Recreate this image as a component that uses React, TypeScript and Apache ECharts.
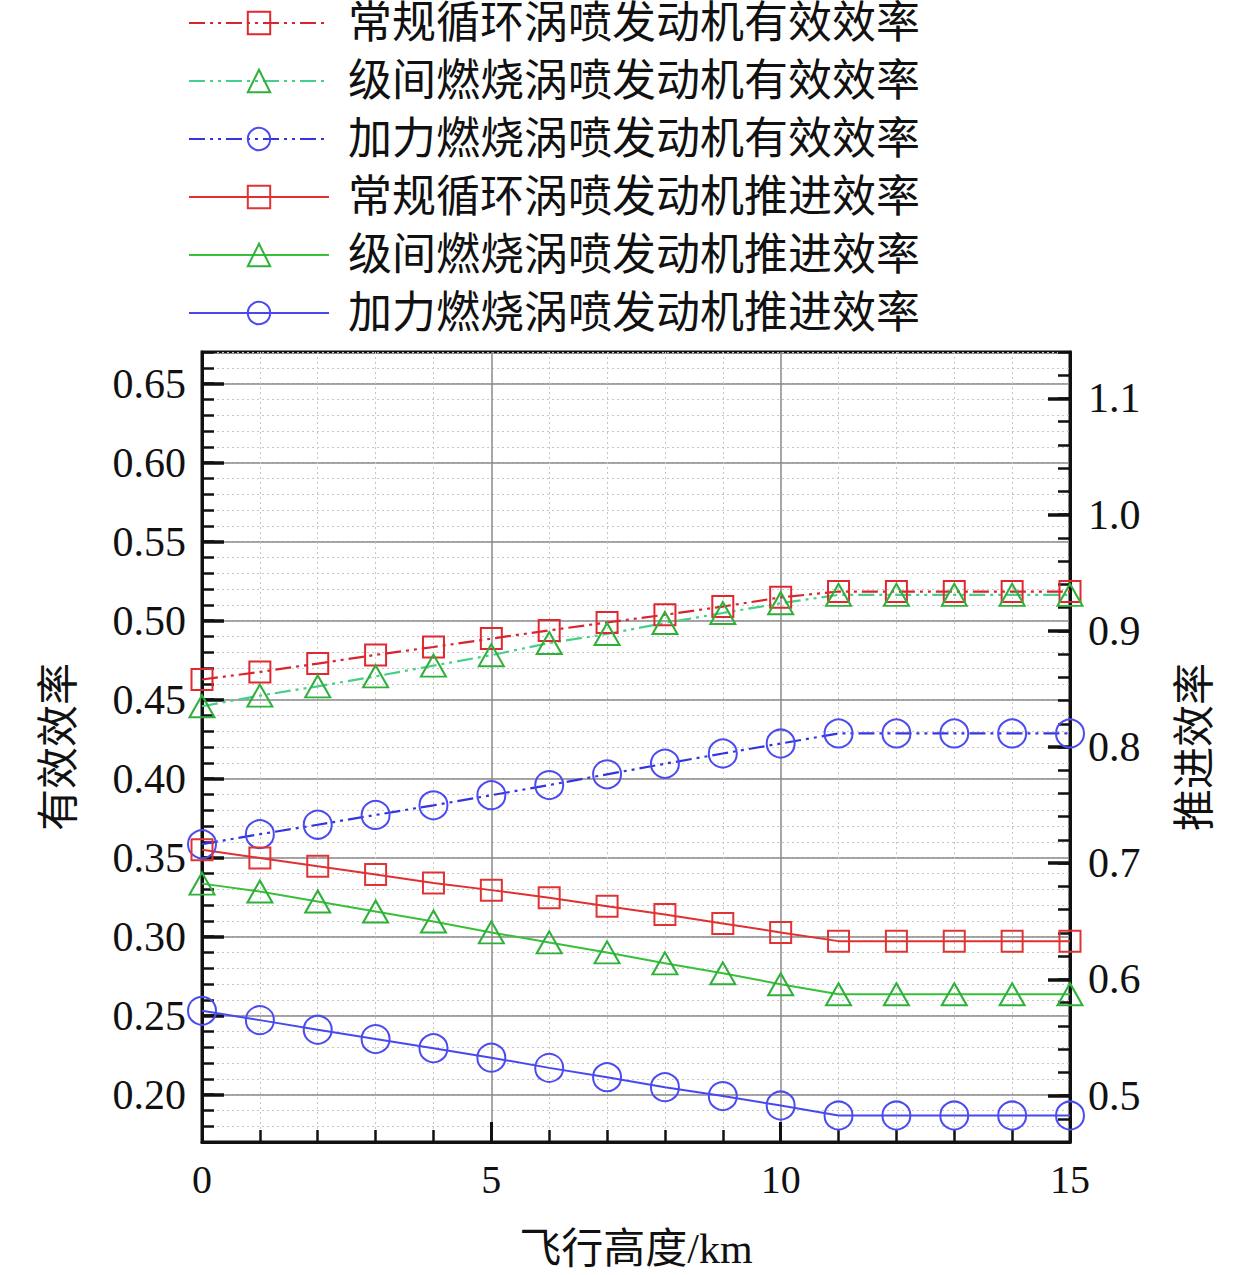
import { useEffect, useRef } from 'react';
import * as echarts from 'echarts';

// 飞行高度 (km)
const altitude = [0, 1, 2, 3, 4, 5, 6, 7, 8, 9, 10, 11, 12, 13, 14, 15];

// 有效效率 (左轴)
const convEffective = [0.4627, 0.4675, 0.4728, 0.4783, 0.4833, 0.4886, 0.4938, 0.4988, 0.5037, 0.5089, 0.5147, 0.5184, 0.5184, 0.5184, 0.5184, 0.5184];
const interEffective = [0.4458, 0.4525, 0.4584, 0.4647, 0.4715, 0.4781, 0.4858, 0.4915, 0.4985, 0.5048, 0.511, 0.5163, 0.5163, 0.5163, 0.5163, 0.5163];
const afterEffective = [0.3585, 0.3648, 0.3708, 0.377, 0.3831, 0.3895, 0.3959, 0.4027, 0.4094, 0.4159, 0.4222, 0.4286, 0.4286, 0.4286, 0.4286, 0.4286];

// 推进效率 (右轴)
const convPropulsive = [0.7116, 0.7045, 0.6973, 0.6902, 0.683, 0.6768, 0.6702, 0.663, 0.6558, 0.6481, 0.6404, 0.6329, 0.6329, 0.6329, 0.6329, 0.6329];
const interPropulsive = [0.6824, 0.6756, 0.667, 0.6584, 0.6498, 0.6404, 0.6318, 0.6232, 0.6138, 0.6052, 0.5958, 0.5872, 0.5872, 0.5872, 0.5872, 0.5872];
const afterPropulsive = [0.5729, 0.5649, 0.5566, 0.5486, 0.5407, 0.5326, 0.5238, 0.5158, 0.5072, 0.4995, 0.4914, 0.4828, 0.4828, 0.4828, 0.4828, 0.4828];

const leftTicks = [0.2, 0.25, 0.3, 0.35, 0.4, 0.45, 0.5, 0.55, 0.6, 0.65];
const rightTicks = [0.5, 0.6, 0.7, 0.8, 0.9, 1.0, 1.1];

const FONT = "'Liberation Serif', 'Times New Roman', 'Noto Sans CJK SC', serif";
const DASH = [16, 5, 3, 5, 3, 5];

const makeLine = (
  name: string,
  values: number[],
  yAxisIndex: number,
  symbol: string,
  symbolSize: number | number[],
  lineColor: string,
  markColor: string,
  dashed: boolean
) => ({
  name,
  type: 'line',
  yAxisIndex,
  data: altitude.map((h, i) => [h, values[i]]),
  symbol,
  symbolSize,
  clip: false,
  color: markColor,
  lineStyle: { color: lineColor, width: dashed ? 2.2 : 2, type: dashed ? DASH : 'solid' },
  itemStyle: { color: 'rgba(255,255,255,0)', borderColor: markColor, borderWidth: 2 },
  emphasis: { disabled: true },
  z: 3
});

const App = () => {
  const chartRef = useRef<HTMLDivElement>(null);

  useEffect(() => {
    if (!chartRef.current) return;
    const myChart = echarts.init(chartRef.current, undefined, { renderer: 'svg' });

    const option = {
      animation: false,
      backgroundColor: '#fff',
      textStyle: { fontFamily: FONT },
      legend: {
        orient: 'vertical',
        left: 188,
        top: 1,
        padding: 0,
        itemWidth: 140,
        itemHeight: 28,
        itemGap: 14,
        textStyle: { fontSize: 44, lineHeight: 44, color: '#111', fontFamily: FONT, padding: [0, 0, 0, 14] },
        data: [
          '常规循环涡喷发动机有效效率',
          '级间燃烧涡喷发动机有效效率',
          '加力燃烧涡喷发动机有效效率',
          '常规循环涡喷发动机推进效率',
          '级间燃烧涡喷发动机推进效率',
          '加力燃烧涡喷发动机推进效率'
        ]
      },
      grid: {
        left: 202,
        right: 190,
        top: 352,
        bottom: 132,
        show: true,
        borderColor: '#111',
        borderWidth: 3,
        containLabel: false
      },
      xAxis: {
        type: 'value',
        min: 0,
        max: 15,
        interval: 5,
        position: 'bottom',
        axisLine: { show: true, onZero: false, lineStyle: { color: '#111', width: 3 } },
        axisTick: { show: true, inside: true, length: 20, lineStyle: { color: '#111', width: 3 } },
        minorTick: { show: true, splitNumber: 5, length: 12, lineStyle: { color: '#111', width: 2.5 } },
        axisLabel: { fontSize: 40, fontFamily: FONT, color: '#111', margin: 18 },
        splitLine: { show: true, lineStyle: { color: '#8a8a8a', width: 1.5 } },
        minorSplitLine: { show: true, lineStyle: { color: '#c6c6c6', width: 1, type: [2, 3] } },
        name: '飞行高度/km',
        nameLocation: 'middle',
        nameGap: 86,
        nameTextStyle: { fontSize: 42, fontFamily: FONT, color: '#111' }
      },
      yAxis: [
        {
          type: 'value',
          position: 'left',
          min: 0.17,
          max: 0.67,
          interval: 0.01,
          axisLine: { show: true, lineStyle: { color: '#111', width: 3 } },
          axisTick: { show: true, inside: true, length: 12, lineStyle: { color: '#111', width: 2.5 } },
          axisLabel: { show: false },
          splitLine: { show: true, lineStyle: { color: '#c6c6c6', width: 1, type: [2, 3] } }
        },
        {
          type: 'value',
          position: 'left',
          min: 0.17,
          max: 0.67,
          axisLine: { show: false },
          axisTick: {
            show: true,
            inside: true,
            length: 22,
            customValues: leftTicks,
            lineStyle: { color: '#111', width: 3.5 }
          },
          axisLabel: {
            customValues: leftTicks,
            formatter: (v: number) => v.toFixed(2),
            fontSize: 42,
            fontFamily: FONT,
            color: '#111',
            margin: 16
          },
          splitLine: { show: true, lineStyle: { color: '#8a8a8a', width: 1.5 } },
          name: '有效效率',
          nameLocation: 'middle',
          nameRotate: 90,
          nameGap: 122,
          nameTextStyle: { fontSize: 42, fontFamily: FONT, color: '#111' }
        },
        {
          type: 'value',
          position: 'right',
          min: 0.46,
          max: 1.14,
          interval: 0.02,
          axisLine: { show: true, lineStyle: { color: '#111', width: 3 } },
          axisTick: { show: true, inside: true, length: 12, lineStyle: { color: '#111', width: 2.5 } },
          axisLabel: { show: false },
          splitLine: { show: false }
        },
        {
          type: 'value',
          position: 'right',
          min: 0.46,
          max: 1.14,
          axisLine: { show: false },
          axisTick: {
            show: true,
            inside: true,
            length: 22,
            customValues: rightTicks,
            lineStyle: { color: '#111', width: 3.5 }
          },
          axisLabel: {
            customValues: rightTicks,
            formatter: (v: number) => v.toFixed(1),
            fontSize: 42,
            fontFamily: FONT,
            color: '#111',
            margin: 18
          },
          splitLine: { show: false },
          name: '推进效率',
          nameLocation: 'middle',
          nameRotate: 90,
          nameGap: 104,
          nameTextStyle: { fontSize: 42, fontFamily: FONT, color: '#111' }
        }
      ],
      series: [
        makeLine('常规循环涡喷发动机有效效率', convEffective, 1, 'rect', 21, '#d9232e', '#e0282f', true),
        makeLine('级间燃烧涡喷发动机有效效率', interEffective, 1, 'triangle', [25, 22], '#45cf88', '#2fb03a', true),
        makeLine('加力燃烧涡喷发动机有效效率', afterEffective, 1, 'circle', 28, '#3434e0', '#4b4bf0', true),
        makeLine('常规循环涡喷发动机推进效率', convPropulsive, 3, 'rect', 21, '#e03030', '#e03434', false),
        makeLine('级间燃烧涡喷发动机推进效率', interPropulsive, 3, 'triangle', [25, 22], '#38c038', '#2fb03a', false),
        makeLine('加力燃烧涡喷发动机推进效率', afterPropulsive, 3, 'circle', 28, '#4848f0', '#4b4bf0', false)
      ]
    };

    myChart.setOption(option);

    const handleResize = () => myChart.resize();
    window.addEventListener('resize', handleResize);

    return () => {
      window.removeEventListener('resize', handleResize);
      myChart.dispose();
    };
  }, []);

  return (
    <div
      ref={chartRef}
      style={{ position: 'absolute', left: 0, top: 0, width: 1260, height: 1275 }}
    />
  );
};

export default App;
